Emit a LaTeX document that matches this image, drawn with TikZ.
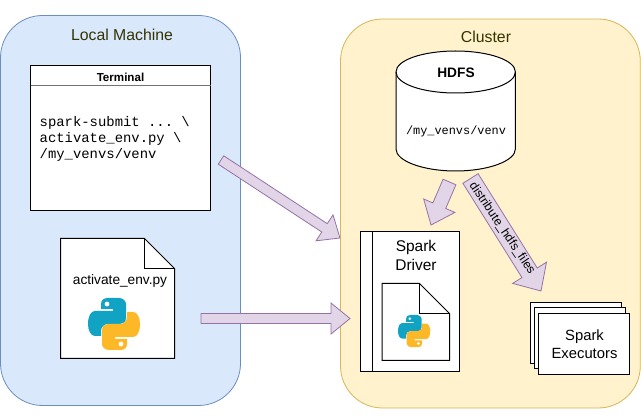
\documentclass[tikz,border=0pt]{standalone}
\usepackage{fontspec}
\setmainfont{Liberation Sans}
\setmonofont{Liberation Mono}
\usetikzlibrary{calc}
\definecolor{lfill}{HTML}{DAE8FC}\definecolor{lline}{HTML}{6C8EBF}
\definecolor{cfill}{HTML}{FFF2CC}\definecolor{cline}{HTML}{D6B656}
\definecolor{afill}{HTML}{E1D5E7}\definecolor{aline}{HTML}{9673A6}
\definecolor{pyblue}{HTML}{11A3C4}\definecolor{pyyellow}{HTML}{FDB827}
\definecolor{olive}{HTML}{333300}
\tikzset{
  x=1pt,y=-1pt,
  region/.style={line width=0.8pt,rounded corners=42pt},
  whitebox/.style={draw=black,fill=white,line width=1pt,outer sep=0pt},
  boxtext/.style={font=\fontsize{15.5}{19}\selectfont,align=center,inner sep=0pt,text=black},
  title/.style={font=\fontsize{15.8}{18}\selectfont,text=olive,inner sep=0pt},
  blockarrow/.style={draw=aline,fill=afill,line width=0.8pt,line join=miter},
  codetext/.style={inner sep=0pt,align=left,font=\ttfamily\fontsize{13.9}{16.2}\selectfont}
}
\newcommand{\blockarr}[5]{%
  \coordinate (hb) at ($(#2)!#4pt!(#1)$);
  \draw[blockarrow] ($(#1)!#3pt!90:(hb)$) -- ($(hb)!#3pt!-90:(#1)$) -- ($(hb)!#5pt!-90:(#1)$) -- (#2)
     -- ($(hb)!#5pt!90:(#1)$) -- ($(hb)!#3pt!90:(#1)$) -- ($(#1)!#3pt!-90:(hb)$) -- cycle;}
\newcommand{\pylogo}[3]{%
 \begin{scope}[shift={(#1,#2)},scale=#3]
  \fill[pyblue] (13,6) .. controls (13,2) and (16,0) .. (20,0) -- (31,0)
    .. controls (35,0) and (38,3) .. (38,6) -- (38,20) .. controls (38,24) and (35,26) .. (32,26)
    -- (20,26) .. controls (16,26) and (13,29) .. (13,33) -- (13,38) -- (7,38)
    .. controls (3,38) and (0,33) .. (0,26) .. controls (0,18) and (3,13) .. (7,13)
    -- (25,13) -- (25,11) -- (13,11) -- cycle;
  \fill[white] (19,6) circle (2.4);
  \fill[pyyellow] (39,46) .. controls (39,50) and (36,52) .. (32,52) -- (21,52)
    .. controls (17,52) and (14,49) .. (14,46) -- (14,32) .. controls (14,28) and (17,26) .. (20,26)
    -- (32,26) .. controls (36,26) and (39,23) .. (39,19) -- (39,14) -- (45,14)
    .. controls (49,14) and (52,19) .. (52,26) .. controls (52,34) and (49,39) .. (45,39)
    -- (27,39) -- (27,41) -- (39,41) -- cycle;
  \fill[white] (33,46) circle (2.4);
 \end{scope}}
\begin{document}
\begin{tikzpicture}
\useasboundingbox (0,0) rectangle (641,417);
\fill[white] (0,0) rectangle (641,417);
% regions
\draw[region,draw=lline,fill=lfill] (0.5,15.5) rectangle (240.5,405.5);
\draw[region,draw=cline,fill=cfill] (340.5,19) rectangle (640.3,408);
\node[title] (localtitle) at (122,35) {Local Machine};
\node[title] (clustertitle) at (486,37) {Cluster};
% terminal
\node[whitebox,minimum width=180pt,minimum height=145pt,inner sep=0pt,anchor=north west] (terminal) at (30.5,66) {};
\coordinate (th1) at (30.5,86);
\coordinate (th2) at (210.5,86);
\draw[draw=black!55,line width=1pt] (th1) -- (th2);
\node[inner sep=0pt,font=\bfseries\fontsize{11.6}{14}\selectfont] (termtitle) at (120.5,77.5) {Terminal};
\node[codetext,anchor=west] (code) at (39.5,139) {spark-submit ... \textbackslash\\activate\_env.py \textbackslash\\/my\_venvs/venv};
% python file
\draw[whitebox] (60.5,238.5) -- (144.5,238.5) -- (174.5,268.5) -- (174.5,358.5) -- (60.5,358.5) -- cycle;
\draw[black,line width=1pt] (144.5,238.5) -- (144.5,268.5) -- (174.5,268.5);
\node[inner sep=0pt,font=\fontsize{13.7}{16}\selectfont] (pyname) at (120,281) {activate\_env.py};
\pylogo{88}{298}{1}
% HDFS
\draw[whitebox] (396,149) -- (396,72)
   .. controls (396,60) and (423,51) .. (455.7,51) .. controls (488,51) and (515.4,60) .. (515.4,72) -- (515.4,149)
   .. controls (515.4,161) and (488,171) .. (455.7,171) .. controls (423,171) and (396,161) .. (396,149) -- cycle;
\draw[black,line width=1pt] (396,72) .. controls (396,84) and (423,93) .. (455.7,93) .. controls (488,93) and (515.4,84) .. (515.4,72);
\node[inner sep=0pt,font=\bfseries\fontsize{13.7}{16}\selectfont] (hdfstitle) at (456,73) {HDFS};
\node[inner sep=0pt,font=\ttfamily\fontsize{11.9}{14}\selectfont] (hdfspath) at (456,131) {/my\_venvs/venv};
% driver
\node[whitebox,minimum width=99pt,minimum height=140pt,inner sep=0pt,anchor=north west] (driver) at (360.5,231.5) {};
\draw[black,line width=1pt] (372,231.5) -- (372,371.5);
\node[boxtext,text width=90pt] (drivertext) at (416,255.5) {Spark\\Driver};
\draw[whitebox] (382,283.5) -- (419.5,283.5) -- (449.5,313.5) -- (449.5,360.5) -- (382,360.5) -- cycle;
\draw[black,line width=1pt] (419.5,283.5) -- (419.5,313.5) -- (449.5,313.5);
\pylogo{398}{315}{0.62}
% executors
\node[whitebox,minimum width=91pt,minimum height=61pt,inner sep=0pt,anchor=north west] (ex1) at (530.5,302.5) {};
\node[whitebox,minimum width=91pt,minimum height=61pt,inner sep=0pt,anchor=north west] (ex2) at (534.5,307.5) {};
\node[whitebox,minimum width=91pt,minimum height=61pt,inner sep=0pt,anchor=north west] (ex3) at (538.5,313.5) {};
\node[boxtext,font=\fontsize{14.8}{18}\selectfont] (extext) at (584.5,344.5) {Spark\\Executors};
% arrows
\coordinate (a1s) at (221,160);
\coordinate (a1e) at (340,238);
\blockarr{a1s}{a1e}{5}{18.5}{15.5}
\coordinate (a2s) at (201,318.5);
\coordinate (a2e) at (350,318.5);
\blockarr{a2s}{a2e}{5}{19}{15.5}
\coordinate (a3s) at (449.5,182);
\coordinate (a3e) at (431,225);
\blockarr{a3s}{a3e}{7}{21}{17}
\coordinate (a4s) at (470.5,178.5);
\coordinate (a4e) at (541,291);
\blockarr{a4s}{a4e}{9}{21.5}{20}
\node[inner sep=0pt,rotate=-56,font=\fontsize{12.2}{14}\selectfont] (a4label) at (502,228.5) {distribute\_hdfs\_files};
\end{tikzpicture}
\end{document}
